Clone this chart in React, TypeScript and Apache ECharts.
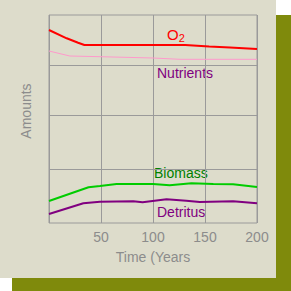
import React, { useEffect, useRef } from "react";
import * as echarts from "echarts";

const o2X = [0, 17, 28, 34, 131, 154, 174, 200];
const o2Y = [193, 184.7, 180.3, 178, 178, 176.5, 175.5, 174];
const nutX = [0, 20, 49, 100, 126, 200];
const nutY = [172, 167, 166.3, 165, 163.7, 163.7];
const bioX = [0, 38, 49, 65, 100, 116, 137, 158, 177, 200];
const bioY = [22, 35.7, 37, 39, 39, 37.7, 39.7, 39, 38.7, 36];
const detX = [0, 33, 49, 81, 90, 113, 132, 145, 177, 200];
const detY = [9, 19.7, 21.3, 21.7, 20.7, 23.7, 22.3, 21, 21.7, 19.7];
const hGridValues = [54, 108, 158];
const xTicks = [0, 50, 100, 150, 200];

const zip = (xs: number[], ys: number[]) => xs.map((x, i) => [x, ys[i]]);

export default function App() {
  const ref = useRef<HTMLDivElement>(null);
  useEffect(() => {
    document.body.style.margin = "0";
    const chart = echarts.init(ref.current!, null, { renderer: "svg" });
    const txt = "#8c8c8c";
    chart.setOption({
      animation: false,
      backgroundColor: "#ffffff",
      graphic: [
        { type: "rect", z: -10, shape: { x: 12, y: 15, width: 279, height: 276 }, style: { fill: "#7f8a0c" } },
        { type: "rect", z: -9, shape: { x: 0, y: 0, width: 276, height: 278 }, style: { fill: "#dddccb" } },
        { type: "text", x: 26, y: 111, rotation: Math.PI / 2, style: { text: "Amounts", fill: txt, font: "14px 'Liberation Sans', Arial", align: "center", verticalAlign: "middle" } },
        { type: "text", x: 167, y: 34, style: { text: "O{s|2}", fill: "#ff0000", font: "15px 'Liberation Sans', Arial", verticalAlign: "middle", rich: { s: { fontSize: 11, fill: "#ff0000", padding: [8, 0, 0, 0], fontFamily: "Liberation Sans" } } } },
        { type: "text", x: 157, y: 73, style: { text: "Nutrients", fill: "#800080", font: "14px 'Liberation Sans', Arial", verticalAlign: "middle" } },
        { type: "text", x: 154, y: 173, style: { text: "Biomass", fill: "#008000", font: "14px 'Liberation Sans', Arial", verticalAlign: "middle" } },
        { type: "text", x: 157, y: 212, style: { text: "Detritus", fill: "#800080", font: "14px 'Liberation Sans', Arial", verticalAlign: "middle" } },
      ],
      grid: { left: 49, top: 15, width: 208, height: 208, show: true, borderColor: "#9a9a9a", borderWidth: 1, backgroundColor: "transparent" },
      xAxis: {
        type: "value", min: 0, max: 200, interval: 50,
        axisLine: { show: false }, axisTick: { show: false },
        splitLine: { show: true, lineStyle: { color: "#9a9a9a", width: 1 } },
        axisLabel: { color: txt, fontSize: 14, fontFamily: "Liberation Sans", margin: 7, formatter: (v: number) => (v === xTicks[0] ? "" : String(v)) },
        name: "Time (Years", nameLocation: "middle", nameGap: 27,
        nameTextStyle: { color: txt, fontSize: 14, fontFamily: "Liberation Sans" },
      },
      yAxis: {
        type: "value", min: 0, max: 208,
        axisLine: { show: false }, axisTick: { show: false }, axisLabel: { show: false },
        splitLine: { show: false },
      },
      series: [
        {
          type: "line", data: zip(o2X, o2Y), symbol: "none", lineStyle: { color: "#ff0000", width: 2 }, z: 5,
          markLine: { silent: true, symbol: "none", label: { show: false }, lineStyle: { color: "#9a9a9a", width: 1, type: "solid" }, data: hGridValues.map((v) => ({ yAxis: v })) },
        },
        { type: "line", data: zip(nutX, nutY), symbol: "none", lineStyle: { color: "#ff99cc", width: 1 }, z: 5 },
        { type: "line", data: zip(bioX, bioY), symbol: "none", lineStyle: { color: "#00cc00", width: 2 }, z: 5 },
        { type: "line", data: zip(detX, detY), symbol: "none", lineStyle: { color: "#800080", width: 2 }, z: 5 },
      ],
    });
    return () => chart.dispose();
  }, []);
  return <div ref={ref} style={{ position: "fixed", left: 0, top: 0, width: 291, height: 291 }} />;
}
